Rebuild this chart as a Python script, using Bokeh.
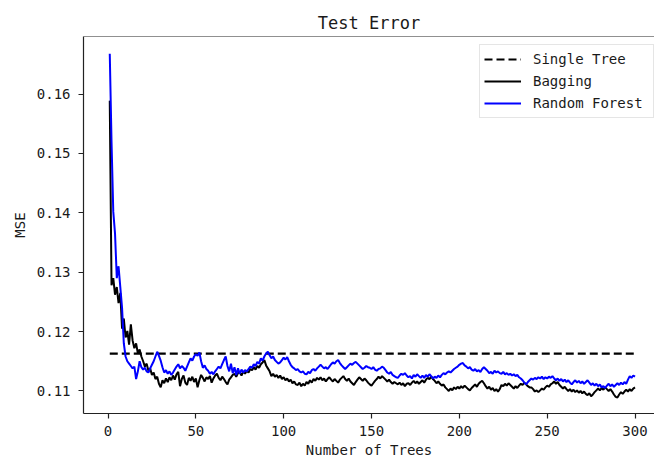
from bokeh.plotting import figure
from bokeh.models import Range1d, FixedTicker, Legend, LegendItem, Span
from bokeh.embed import file_html
from bokeh.resources import INLINE

title_text = "Test Error"
x_label = "Number of Trees"
y_label = "MSE"
series_names = ["Single Tree", "Bagging", "Random Forest"]

n_trees = list(range(1, 301))
single_tree_mse = 0.1163

bagging_mse = [
    0.1589, 0.1278, 0.1290, 0.1262, 0.1275, 0.1248, 0.1265, 0.1205, 0.1222, 0.1190,
    0.1201, 0.1178, 0.1212, 0.1185, 0.1172, 0.1180, 0.1163, 0.1170, 0.1158, 0.1150,
    0.1141, 0.1146, 0.1134, 0.1138, 0.1127, 0.1131, 0.1120, 0.1124, 0.1112, 0.1106,
    0.1118, 0.1113, 0.1121, 0.1115, 0.1123, 0.1118, 0.1126, 0.1119, 0.1128, 0.1132,
    0.1108, 0.1120, 0.1126, 0.1114, 0.1110, 0.1122, 0.1117, 0.1124, 0.1115, 0.1121,
    0.1106, 0.1118, 0.1127, 0.1122, 0.1116, 0.1123, 0.1120, 0.1125, 0.1114, 0.1121,
    0.1126, 0.1129, 0.1122, 0.1118, 0.1124, 0.1120, 0.1115, 0.1111, 0.1119, 0.1123,
    0.1127, 0.1129, 0.1124, 0.1130, 0.1131, 0.1126, 0.1133, 0.1129, 0.1134, 0.1131,
    0.1137, 0.1135, 0.1140, 0.1136, 0.1142, 0.1139, 0.1145, 0.1148, 0.1152, 0.1143,
    0.1138, 0.1133, 0.1125, 0.1129, 0.1124, 0.1127, 0.1122, 0.1126, 0.1120, 0.1123,
    0.1118, 0.1121, 0.1116, 0.1119, 0.1113, 0.1116, 0.1111, 0.1110, 0.1114, 0.1108,
    0.1112, 0.1109, 0.1115, 0.1112, 0.1118, 0.1114, 0.1120, 0.1117, 0.1122, 0.1119,
    0.1123, 0.1118, 0.1121, 0.1116, 0.1120, 0.1123, 0.1119, 0.1116, 0.1120, 0.1117,
    0.1114, 0.1119, 0.1122, 0.1125, 0.1120, 0.1117, 0.1121, 0.1116, 0.1113, 0.1110,
    0.1115, 0.1119, 0.1123, 0.1120, 0.1117, 0.1121, 0.1118, 0.1114, 0.1111, 0.1109,
    0.1113, 0.1117, 0.1120, 0.1124, 0.1121, 0.1125, 0.1122, 0.1119, 0.1116, 0.1119,
    0.1115, 0.1112, 0.1115, 0.1113, 0.1111, 0.1114, 0.1110, 0.1113, 0.1108, 0.1112,
    0.1113, 0.1110, 0.1114, 0.1117, 0.1113, 0.1116, 0.1112, 0.1115, 0.1118, 0.1114,
    0.1119, 0.1122, 0.1120, 0.1124, 0.1120, 0.1117, 0.1113, 0.1116, 0.1112, 0.1109,
    0.1111, 0.1106, 0.1103, 0.1100, 0.1104, 0.1101, 0.1106, 0.1103, 0.1107, 0.1104,
    0.1108, 0.1105, 0.1109, 0.1106, 0.1103, 0.1101, 0.1105, 0.1108, 0.1111, 0.1107,
    0.1112, 0.1115, 0.1117, 0.1113, 0.1108, 0.1104, 0.1107, 0.1102, 0.1105, 0.1100,
    0.1103, 0.1099, 0.1103, 0.1110, 0.1108, 0.1112, 0.1109, 0.1113, 0.1110, 0.1107,
    0.1104, 0.1108, 0.1105, 0.1109, 0.1112, 0.1110, 0.1114, 0.1111, 0.1108, 0.1106,
    0.1106, 0.1103, 0.1099, 0.1101, 0.1098, 0.1101, 0.1104, 0.1102, 0.1106, 0.1109,
    0.1107, 0.1111, 0.1113, 0.1116, 0.1112, 0.1115, 0.1110, 0.1107, 0.1104, 0.1107,
    0.1103, 0.1100, 0.1103, 0.1099, 0.1102, 0.1098, 0.1101, 0.1097, 0.1100, 0.1096,
    0.1099, 0.1095, 0.1093, 0.1096, 0.1091, 0.1094, 0.1098, 0.1101, 0.1104, 0.1101,
    0.1105, 0.1102, 0.1106, 0.1103, 0.1100, 0.1103, 0.1099, 0.1094, 0.1090, 0.1089,
    0.1094, 0.1098, 0.1095, 0.1099, 0.1102, 0.1099, 0.1103, 0.1100, 0.1104, 0.1106,
]

random_forest_mse = [
    0.1668, 0.1520, 0.1402, 0.1365, 0.1290, 0.1310, 0.1275, 0.1240, 0.1180, 0.1158,
    0.1150, 0.1146, 0.1142, 0.1138, 0.1141, 0.1120, 0.1133, 0.1150, 0.1140, 0.1136,
    0.1139, 0.1133, 0.1131, 0.1138, 0.1144, 0.1150, 0.1158, 0.1166, 0.1159, 0.1151,
    0.1140, 0.1131, 0.1135, 0.1129, 0.1133, 0.1127, 0.1131, 0.1136, 0.1141, 0.1145,
    0.1138, 0.1142, 0.1139, 0.1134, 0.1141, 0.1148, 0.1155, 0.1151, 0.1158, 0.1162,
    0.1159, 0.1165, 0.1150, 0.1139, 0.1143, 0.1137, 0.1134, 0.1129, 0.1132, 0.1128,
    0.1133, 0.1137, 0.1141, 0.1138, 0.1145, 0.1152, 0.1158, 0.1142, 0.1133, 0.1146,
    0.1130, 0.1140, 0.1127, 0.1138, 0.1129, 0.1136, 0.1131, 0.1135, 0.1133, 0.1137,
    0.1141, 0.1139, 0.1145, 0.1142, 0.1149, 0.1146, 0.1155, 0.1151, 0.1158, 0.1163,
    0.1166, 0.1160, 0.1155, 0.1158, 0.1152, 0.1149, 0.1146, 0.1148, 0.1152, 0.1156,
    0.1153, 0.1157, 0.1150, 0.1144, 0.1140, 0.1138, 0.1135, 0.1137, 0.1133, 0.1131,
    0.1133, 0.1129, 0.1128, 0.1132, 0.1130, 0.1135, 0.1137, 0.1134, 0.1138, 0.1141,
    0.1144, 0.1141, 0.1138, 0.1140, 0.1137, 0.1141, 0.1145, 0.1148, 0.1146, 0.1150,
    0.1152, 0.1147, 0.1143, 0.1140, 0.1137, 0.1140, 0.1143, 0.1146, 0.1144, 0.1147,
    0.1149, 0.1146, 0.1143, 0.1140, 0.1137, 0.1139, 0.1142, 0.1140, 0.1139, 0.1137,
    0.1140, 0.1136, 0.1134, 0.1137, 0.1138, 0.1141, 0.1139, 0.1135, 0.1131, 0.1129,
    0.1132, 0.1127, 0.1125, 0.1123, 0.1122, 0.1126, 0.1129, 0.1127, 0.1130, 0.1126,
    0.1123, 0.1125, 0.1121, 0.1127, 0.1124, 0.1128, 0.1125, 0.1122, 0.1126, 0.1122,
    0.1127, 0.1124, 0.1128, 0.1125, 0.1121, 0.1124, 0.1122, 0.1126, 0.1123, 0.1127,
    0.1130, 0.1128, 0.1131, 0.1133, 0.1131, 0.1134, 0.1137, 0.1139, 0.1141, 0.1144,
    0.1146, 0.1147, 0.1143, 0.1141, 0.1138, 0.1140, 0.1136, 0.1134, 0.1137, 0.1133,
    0.1135, 0.1132, 0.1137, 0.1140, 0.1137, 0.1134, 0.1130, 0.1132, 0.1129, 0.1134,
    0.1131, 0.1133, 0.1130, 0.1129, 0.1132, 0.1128, 0.1130, 0.1127, 0.1129, 0.1126,
    0.1128, 0.1125, 0.1127, 0.1123, 0.1121, 0.1118, 0.1114, 0.1111, 0.1115, 0.1118,
    0.1121, 0.1119, 0.1122, 0.1120, 0.1123, 0.1121, 0.1124, 0.1120, 0.1123, 0.1121,
    0.1124, 0.1122, 0.1125, 0.1121, 0.1118, 0.1121, 0.1117, 0.1120, 0.1116, 0.1119,
    0.1115, 0.1118, 0.1114, 0.1111, 0.1115, 0.1118, 0.1114, 0.1117, 0.1113, 0.1116,
    0.1112, 0.1115, 0.1118, 0.1114, 0.1110, 0.1113, 0.1109, 0.1112, 0.1108, 0.1111,
    0.1106, 0.1108, 0.1105, 0.1109, 0.1112, 0.1108, 0.1111, 0.1107, 0.1110, 0.1113,
    0.1110, 0.1114, 0.1111, 0.1115, 0.1112, 0.1119, 0.1125, 0.1122, 0.1126, 0.1124,
]

x_ticks = [0, 50, 100, 150, 200, 250, 300]
y_ticks = [0.11, 0.12, 0.13, 0.14, 0.15, 0.16]

FONT = "DejaVu Sans Mono"
AX = "#222222"
TXT = "#1a1a1a"

p = figure(
    width=654, height=461,
    output_backend="svg", toolbar_location=None,
    x_range=Range1d(-13.95, 311.1), y_range=Range1d(0.1062, 0.1697),
    min_border_left=83, min_border_right=0, min_border_top=36, min_border_bottom=48,
)
p.outline_line_color = None
p.background_fill_color = "white"
p.border_fill_color = "white"
p.xgrid.visible = False
p.ygrid.visible = False

p.title.text = title_text
p.title.text_font = FONT
p.title.text_font_size = "17px"
p.title.text_font_style = "normal"
p.title.text_color = TXT
p.title.align = "center"
p.title.standoff = 8
p.title.offset = 3

for ax in (p.xaxis[0], p.yaxis[0]):
    ax.axis_line_color = AX
    ax.axis_line_width = 1.2
    ax.major_tick_line_color = AX
    ax.major_tick_line_width = 1.2
    ax.major_tick_in = 0
    ax.major_tick_out = 5
    ax.minor_tick_line_color = None
    ax.major_label_text_font = FONT
    ax.major_label_text_font_size = "14px"
    ax.major_label_text_color = TXT
    ax.axis_label_text_font = FONT
    ax.axis_label_text_font_size = "14px"
    ax.axis_label_text_font_style = "normal"
    ax.axis_label_text_color = TXT

p.xaxis[0].ticker = FixedTicker(ticks=x_ticks)
p.yaxis[0].ticker = FixedTicker(ticks=y_ticks)
p.xaxis[0].major_label_standoff = 7
p.yaxis[0].major_label_standoff = 8
p.xaxis[0].axis_label = x_label
p.yaxis[0].axis_label = y_label
p.xaxis[0].axis_label_standoff = 3
p.yaxis[0].axis_label_standoff = 6

# top spine
p.add_layout(Span(location=p.y_range.end, dimension="width", line_color=AX, line_width=1.2))

r_single = p.line([n_trees[0], n_trees[-1]], [single_tree_mse, single_tree_mse],
                  line_color="black", line_width=2.2, line_dash="8 4")
r_bag = p.line(n_trees, bagging_mse, line_color="black", line_width=2)
r_rf = p.line(n_trees, random_forest_mse, line_color="blue", line_width=2)

legend = Legend(
    items=[LegendItem(label=series_names[0], renderers=[r_single]),
           LegendItem(label=series_names[1], renderers=[r_bag]),
           LegendItem(label=series_names[2], renderers=[r_rf])],
    location=(396, 295),
    label_text_font=FONT, label_text_font_size="14px", label_text_color=TXT,
    glyph_width=37, glyph_height=20, label_height=20, label_width=116,
    label_standoff=12, spacing=2, padding=4, margin=0,
    border_line_color="#cccccc", border_line_width=1,
    background_fill_alpha=0.8,
)
p.add_layout(legend)

open("out.html", "w").write(file_html(p, INLINE))
